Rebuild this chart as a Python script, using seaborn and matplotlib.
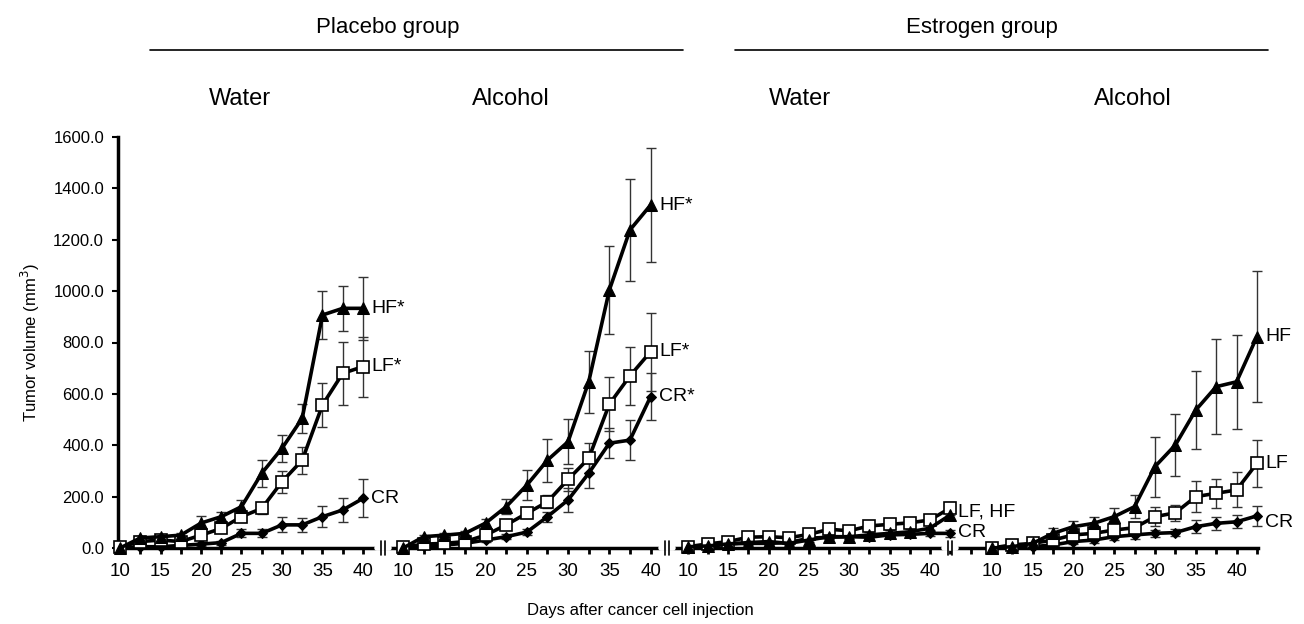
import numpy as np
import pandas as pd
import seaborn as sns
import matplotlib
matplotlib.use("Agg")
from matplotlib import pyplot as plt
from matplotlib.lines import Line2D

# ---- data ----
day_labels_13 = ["10", "", "15", "", "20", "", "25", "", "30", "", "35", "", "40"]
day_labels_14 = day_labels_13 + [""]

# Placebo / Water
pw_hf = [0, 39, 44, 50, 97, 122, 161, 291, 388, 505, 907, 933, 933]
pw_hf_err = [0, 8, 8, 10, 26, 20, 26, 52, 52, 56, 94, 88, 122]
pw_lf = [3, 25, 31, 25, 50, 76, 122, 154, 258, 342, 557, 680, 706]
pw_lf_err = [0, 6, 6, 6, 10, 14, 16, 20, 42, 52, 87, 123, 117]
pw_cr = [0, 5, 5, 10, 15, 21, 57, 57, 90, 90, 122, 148, 193]
pw_cr_err = [0, 3, 3, 4, 6, 8, 16, 16, 29, 26, 40, 45, 74]

# Placebo / Alcohol
pa_hf = [0, 44, 50, 57, 97, 161, 245, 342, 414, 647, 1004, 1238, 1335]
pa_hf_err = [0, 8, 8, 10, 15, 30, 58, 84, 87, 120, 171, 198, 223]
pa_lf = [3, 15, 18, 25, 50, 90, 135, 180, 267, 349, 560, 670, 764]
pa_lf_err = [0, 5, 5, 6, 10, 16, 20, 25, 45, 58, 105, 114, 152]
pa_cr = [0, 8, 12, 18, 31, 44, 62, 122, 187, 291, 408, 420, 589]
pa_cr_err = [0, 3, 4, 5, 8, 10, 12, 20, 45, 58, 58, 78, 91]

# Estrogen / Water
ew_hf = [5, 8, 16, 21, 25, 18, 31, 44, 44, 51, 57, 63, 77, 128]
ew_hf_err = [3, 4, 5, 6, 6, 6, 8, 8, 10, 10, 12, 12, 14, 20]
ew_lf = [5, 16, 25, 42, 44, 40, 53, 73, 67, 86, 92, 98, 109, 155]
ew_lf_err = [3, 5, 6, 8, 8, 8, 10, 10, 12, 12, 14, 14, 16, 26]
ew_cr = [0, 5, 16, 18, 18, 21, 38, 42, 44, 42, 51, 53, 57, 57]
ew_cr_err = [2, 3, 4, 5, 5, 5, 6, 8, 8, 8, 10, 10, 12, 14]

# Estrogen / Alcohol
ea_hf = [0, 5, 18, 57, 83, 96, 122, 161, 317, 401, 537, 628, 647, 823]
ea_hf_err = [0, 3, 6, 20, 23, 26, 34, 45, 117, 120, 152, 185, 182, 256]
ea_lf = [0, 12, 18, 31, 51, 57, 70, 79, 122, 137, 200, 213, 226, 330]
ea_lf_err = [0, 4, 6, 8, 12, 14, 16, 20, 36, 32, 60, 56, 68, 91]
ea_cr = [0, 0, 5, 12, 25, 31, 44, 51, 57, 60, 83, 96, 102, 125]
ea_cr_err = [0, 2, 3, 5, 8, 10, 12, 15, 15, 15, 25, 25, 25, 39]

panels = [
    (pw_hf, pw_hf_err, pw_lf, pw_lf_err, pw_cr, pw_cr_err, day_labels_13,
     [("HF*", 933), ("LF*", 706), ("CR", 193)]),
    (pa_hf, pa_hf_err, pa_lf, pa_lf_err, pa_cr, pa_cr_err, day_labels_13,
     [("HF*", 1335), ("LF*", 764), ("CR*", 589)]),
    (ew_hf, ew_hf_err, ew_lf, ew_lf_err, ew_cr, ew_cr_err, day_labels_14,
     [("LF, HF", 140), ("CR", 60)]),
    (ea_hf, ea_hf_err, ea_lf, ea_lf_err, ea_cr, ea_cr_err, day_labels_14,
     [("HF", 823), ("LF", 330), ("CR", 100)]),
]

# ---- layout (pixel boxes of each panel) ----
W, H = 1304, 624
y_bottom, y_top = 548, 137
boxes = [(118, 382, -0.1, 12.94), (385, 665, -0.88, 12.7),
         (669, 950, -0.94, 12.9), (953, 1258, -1.9, 13.05)]
tick_starts = [0, 0, 0, -1]

sns.set_style("ticks")
plt.rcParams['font.family'] = ['Liberation Sans', 'DejaVu Sans']
for k in ["text.color", "axes.labelcolor", "xtick.color", "ytick.color", "axes.edgecolor"]:
    plt.rcParams[k] = "black"

fig = plt.figure(figsize=(W / 100, H / 100), dpi=100)

series_style = [
    ("HF", dict(marker="^", markersize=8.5, markerfacecolor="black", markeredgecolor="black")),
    ("LF", dict(marker="s", markersize=9, markerfacecolor="white", markeredgecolor="black", markeredgewidth=1.2)),
    ("CR", dict(marker="D", markersize=5.5, markerfacecolor="black", markeredgecolor="black")),
]

for i, (hf, hfe, lf, lfe, cr, cre, labels, notes) in enumerate(panels):
    x0, x1, lo, hi = boxes[i]
    ax = fig.add_axes([x0 / W, (H - y_bottom) / H, (x1 - x0) / W, (y_bottom - y_top) / H])
    n = len(hf)
    x = np.arange(n)
    vals = {"HF": (hf, hfe), "LF": (lf, lfe), "CR": (cr, cre)}
    for name, st in series_style:
        v, e = vals[name]
        ax.errorbar(x, v, yerr=e, fmt="none", ecolor="#333333", elinewidth=1.0,
                    capsize=3.5, capthick=1.0, zorder=2, clip_on=False)
    for name, st in reversed(series_style):
        v, e = vals[name]
        df = pd.DataFrame({"x": x, "y": v})
        sns.lineplot(data=df, x="x", y="y", ax=ax, color="black", linewidth=2.6,
                     zorder=3, clip_on=False, **st)
    ax.set_xlim(lo, hi)
    ax.set_ylim(0, 1600)
    ticks = np.arange(tick_starts[i], n)
    ax.set_xticks(ticks)
    ax.set_xticklabels(([""] if tick_starts[i] < 0 else []) + labels, fontsize=13.5)
    ax.tick_params(axis="x", length=4, width=2, direction="out", pad=7)
    ax.set_xlabel("")
    ax.set_ylabel("")
    for s in ["top", "right"]:
        ax.spines[s].set_visible(False)
    ax.spines["bottom"].set_linewidth(2.5)
    if i == 0:
        ax.spines["left"].set_linewidth(2.5)
        ax.set_yticks(np.arange(0, 1601, 200))
        ax.set_yticklabels([f"{t:.1f}" for t in np.arange(0, 1601, 200)], fontsize=12)
        ax.tick_params(axis="y", length=4, width=1.5, pad=6)
        ax.set_ylabel("Tumor volume (mm$^3$)", fontsize=12, labelpad=8)
    else:
        ax.spines["left"].set_visible(False)
        ax.set_yticks([])
    ax.patch.set_alpha(0)
    # series labels at end of lines
    for text, yv in notes:
        ax.annotate(text, xy=(n - 1, yv), xytext=(6, 0), textcoords="offset points",
                    va="center", ha="left", fontsize=14)

titles = [("Water", 240), ("Alcohol", 511), ("Water", 800), ("Alcohol", 1133)]
for t, xc in titles:
    fig.text(xc / W, 1 - 99 / H, t, ha="center", va="center", fontsize=17)

fig.text(388 / W, 1 - 27 / H, "Placebo group", ha="center", va="center", fontsize=16)
fig.text(982 / W, 1 - 27 / H, "Estrogen group", ha="center", va="center", fontsize=16)
fig.add_artist(Line2D([150 / W, 683 / W], [1 - 50 / H] * 2, color="black", lw=1.2))
fig.add_artist(Line2D([735 / W, 1268 / W], [1 - 50 / H] * 2, color="black", lw=1.2))

# axis breaks
for bx in [383, 667, 950]:
    fig.add_artist(Line2D([(bx - 6) / W, (bx + 6) / W], [1 - y_bottom / H] * 2,
                          color="white", lw=4))
    for dx in (-2, 2):
        fig.add_artist(Line2D([(bx + dx) / W] * 2, [1 - (y_bottom - 7) / H, 1 - (y_bottom + 7) / H],
                              color="black", lw=1.2))

fig.text(640 / W, 1 - 611 / H, "Days after cancer cell injection", ha="center", va="center", fontsize=12)

fig.savefig("out.png", dpi=100)
